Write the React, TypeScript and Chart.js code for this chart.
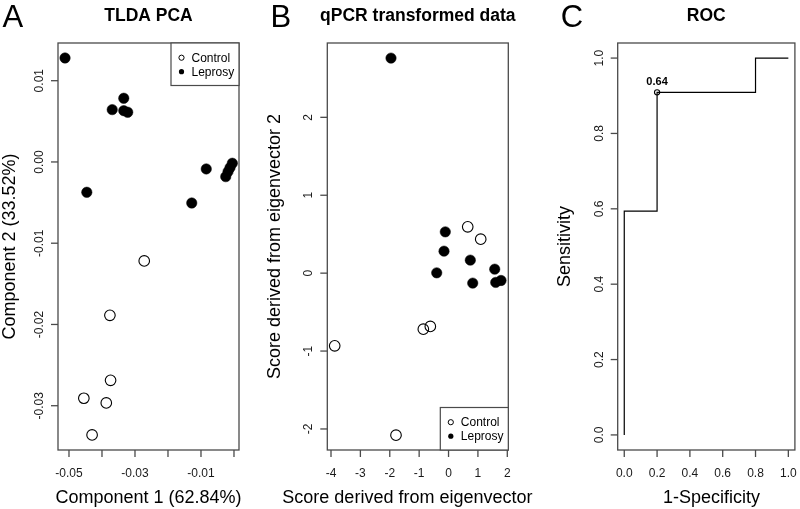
import React, { useEffect, useRef } from "react";
import { Chart, registerables } from "chart.js";

Chart.register(...registerables);

const FONT = '"Liberation Sans", Arial, Helvetica, sans-serif';

// ---------- Panel A: TLDA PCA ----------
const pcaControlX = [-0.0272, -0.0376, -0.0374, -0.0455, -0.0387, -0.043];
const pcaControlY = [-0.01218, -0.01887, -0.02687, -0.02908, -0.02966, -0.0336];
const pcaLeprosyX = [-0.0512, -0.0369, -0.0334, -0.0334, -0.0322, -0.0446, -0.0128, -0.0084, -0.0025, -0.0018, -0.0012, -0.0005];
const pcaLeprosyY = [0.0128, 0.00644, 0.00784, 0.00631, 0.00612, -0.00373, -0.00505, -0.00086, -0.00181, -0.00119, -0.0007, -0.00016];
const pcaXTicks = [-0.05, -0.04, -0.03, -0.02, -0.01, 0];
const pcaXTickLabels = ["-0.05", "", "-0.03", "", "-0.01", ""];
const pcaYTicks = [0.01, 0, -0.01, -0.02, -0.03];
const pcaYTickLabels = ["0.01", "0.00", "-0.01", "-0.02", "-0.03"];

// ---------- Panel B: qPCR transformed data ----------
const qpcrControlX = [0.653, 1.095, -0.858, -0.62, -3.874, -1.788];
const qpcrControlY = [0.594, 0.436, -0.719, -0.684, -0.933, -2.08];
const qpcrLeprosyX = [-1.958, -0.11, -0.154, -0.402, 0.741, 0.823, 1.572, 1.606, 1.786];
const qpcrLeprosyY = [2.76, 0.53, 0.282, 0.004, 0.167, -0.128, 0.051, -0.119, -0.094];
const qpcrXTicks = [-4, -3, -2, -1, 0, 1, 2];
const qpcrXTickLabels = ["-4", "-3", "-2", "-1", "0", "1", "2"];
const qpcrYTicks = [-2, -1, 0, 1, 2];
const qpcrYTickLabels = ["-2", "-1", "0", "1", "2"];

// ---------- Panel C: ROC ----------
const rocFpr = [0, 0, 0.2, 0.8, 1];
const rocTpr = [0, 0.594, 0.909, 1, 1];
const rocBestFpr = [0.2];
const rocBestTpr = [0.909];
const rocBestLabel = "0.64";
const rocTicks = [0, 0.2, 0.4, 0.6, 0.8, 1];
const rocTickLabels = ["0.0", "0.2", "0.4", "0.6", "0.8", "1.0"];

const legendLabels = ["Control", "Leprosy"];

type PanelCfg = {
  letter: string;
  letterX: number;
  title: string;
  xLabel: string;
  xLabelX: number | null;
  yLabel: string;
  yLabelX: number;
  xTicks: number[];
  xTickLabels: string[];
  yTicks: number[];
  yTickLabels: string[];
  legend: null | "topright" | "bottomright";
  pointLabel?: { x: number; y: number; text: string };
};

const BOX = "#4a4a4a";

function makePlugin(cfg: PanelCfg) {
  return {
    id: "rPlot",
    afterDraw(chart: any) {
      const ctx: CanvasRenderingContext2D = chart.ctx;
      const a = chart.chartArea;
      const xs = chart.scales.x;
      const ys = chart.scales.y;
      ctx.save();
      // box
      ctx.strokeStyle = BOX;
      ctx.lineWidth = 1.3;
      ctx.strokeRect(a.left, a.top, a.right - a.left, a.bottom - a.top);

      // x axis ticks
      ctx.fillStyle = "#1a1a1a";
      ctx.font = `12px ${FONT}`;
      ctx.textAlign = "center";
      ctx.textBaseline = "alphabetic";
      cfg.xTicks.forEach((v, i) => {
        const px = xs.getPixelForValue(v);
        ctx.beginPath();
        ctx.moveTo(px, a.bottom);
        ctx.lineTo(px, a.bottom + 7);
        ctx.stroke();
        if (cfg.xTickLabels[i]) ctx.fillText(cfg.xTickLabels[i], px, a.bottom + 27);
      });
      // y axis ticks
      cfg.yTicks.forEach((v, i) => {
        const py = ys.getPixelForValue(v);
        ctx.beginPath();
        ctx.moveTo(a.left, py);
        ctx.lineTo(a.left - 7, py);
        ctx.stroke();
        if (cfg.yTickLabels[i]) {
          ctx.save();
          ctx.translate(a.left - 15, py);
          ctx.rotate(-Math.PI / 2);
          ctx.fillText(cfg.yTickLabels[i], 0, 0);
          ctx.restore();
        }
      });

      // axis labels
      ctx.fillStyle = "#000";
      ctx.font = `18px ${FONT}`;
      const xlx = cfg.xLabelX ?? (a.left + a.right) / 2;
      ctx.fillText(cfg.xLabel, xlx, 503);
      ctx.save();
      ctx.translate(cfg.yLabelX, (a.top + a.bottom) / 2);
      ctx.rotate(-Math.PI / 2);
      ctx.fillText(cfg.yLabel, 0, 0);
      ctx.restore();

      // title
      ctx.font = `bold 17.5px ${FONT}`;
      ctx.fillText(cfg.title, (a.left + a.right) / 2, 21);

      // panel letter
      ctx.font = `31px ${FONT}`;
      ctx.textAlign = "left";
      ctx.fillText(cfg.letter, cfg.letterX, 27);

      // legend
      if (cfg.legend) {
        const w = 68;
        const h = 42.5;
        const bx = a.right - w;
        const by = cfg.legend === "topright" ? a.top : a.bottom - h;
        ctx.fillStyle = "#fff";
        ctx.fillRect(bx, by, w, h);
        ctx.strokeStyle = BOX;
        ctx.lineWidth = 1.2;
        ctx.strokeRect(bx, by, w, h);
        ctx.font = `12px ${FONT}`;
        ctx.textBaseline = "middle";
        legendLabels.forEach((lab, i) => {
          const cy = by + 14.7 + i * 14;
          ctx.beginPath();
          ctx.arc(bx + 10.5, cy, 2.6, 0, Math.PI * 2);
          if (i === 0) {
            ctx.strokeStyle = "#000";
            ctx.lineWidth = 1;
            ctx.stroke();
          } else {
            ctx.fillStyle = "#000";
            ctx.fill();
          }
          ctx.fillStyle = "#000";
          ctx.fillText(lab, bx + 20.5, cy + 0.5);
        });
      }

      // point label
      if (cfg.pointLabel) {
        const px = xs.getPixelForValue(cfg.pointLabel.x);
        const py = ys.getPixelForValue(cfg.pointLabel.y);
        ctx.font = `bold 11px ${FONT}`;
        ctx.textAlign = "center";
        ctx.textBaseline = "alphabetic";
        ctx.fillStyle = "#000";
        ctx.fillText(cfg.pointLabel.text, px, py - 7);
      }
      ctx.restore();
    },
  };
}

function pts(xs: number[], ys: number[]) {
  return xs.map((x, i) => ({ x, y: ys[i] }));
}

function scatterSets(cx: number[], cy: number[], lx: number[], ly: number[]) {
  return [
    {
      label: legendLabels[0],
      data: pts(cx, cy),
      pointRadius: 5.3,
      pointBackgroundColor: "rgba(255,255,255,0)",
      pointBorderColor: "#000",
      pointBorderWidth: 1.1,
      clip: false,
    },
    {
      label: legendLabels[1],
      data: pts(lx, ly),
      pointRadius: 5.2,
      pointBackgroundColor: "#000",
      pointBorderColor: "#000",
      pointBorderWidth: 0.5,
      clip: false,
    },
  ];
}

function baseOptions(xmin: number, xmax: number, ymin: number, ymax: number, pad: any) {
  return {
    responsive: false,
    animation: false,
    devicePixelRatio: 1,
    layout: { padding: pad },
    scales: {
      x: { type: "linear", min: xmin, max: xmax, display: false },
      y: { type: "linear", min: ymin, max: ymax, display: false },
    },
    plugins: { legend: { display: false }, tooltip: { enabled: false } },
    events: [],
  } as any;
}

const B_LEFT = 255;

export default function App() {
  const refA = useRef<HTMLCanvasElement>(null);
  const refB = useRef<HTMLCanvasElement>(null);
  const refC = useRef<HTMLCanvasElement>(null);

  useEffect(() => {
    const charts: Chart[] = [];

    const cfgA: PanelCfg = {
      letter: "A",
      letterX: 2.5,
      title: "TLDA PCA",
      xLabel: "Component 1 (62.84%)",
      xLabelX: null,
      yLabel: "Component 2 (33.52%)",
      yLabelX: 14.7,
      xTicks: pcaXTicks,
      xTickLabels: pcaXTickLabels,
      yTicks: pcaYTicks,
      yTickLabels: pcaYTickLabels,
      legend: "topright",
    };
    charts.push(
      new Chart(refA.current!, {
        type: "scatter",
        data: { datasets: scatterSets(pcaControlX, pcaControlY, pcaLeprosyX, pcaLeprosyY) as any },
        options: baseOptions(-0.05333, 0.00152, -0.03545, 0.01464, { left: 58, right: 31, top: 43, bottom: 59 }),
        plugins: [makePlugin(cfgA)],
      })
    );

    const off = 270 - B_LEFT;
    const cfgB: PanelCfg = {
      letter: "B",
      letterX: 0.5 + off,
      title: "qPCR transformed data",
      xLabel: "Score derived from eigenvector",
      xLabelX: 137.4 + off,
      yLabel: "Score derived from eigenvector 2",
      yLabelX: 9.5 + off,
      xTicks: qpcrXTicks,
      xTickLabels: qpcrXTickLabels,
      yTicks: qpcrYTicks,
      yTickLabels: qpcrYTickLabels,
      legend: "bottomright",
    };
    charts.push(
      new Chart(refB.current!, {
        type: "scatter",
        data: { datasets: scatterSets(qpcrControlX, qpcrControlY, qpcrLeprosyX, qpcrLeprosyY) as any },
        options: baseOptions(-4.126, 2.034, -2.27, 2.954, { left: 57.3 + off, right: 31.7, top: 43, bottom: 59 }),
        plugins: [makePlugin(cfgB)],
      })
    );

    const cfgC: PanelCfg = {
      letter: "C",
      letterX: 20.7,
      title: "ROC",
      xLabel: "1-Specificity",
      xLabelX: 171.5,
      yLabel: "Sensitivity",
      yLabelX: 30,
      xTicks: rocTicks,
      xTickLabels: rocTickLabels,
      yTicks: rocTicks,
      yTickLabels: rocTickLabels,
      legend: null,
      pointLabel: { x: rocBestFpr[0], y: rocBestTpr[0], text: rocBestLabel },
    };
    charts.push(
      new Chart(refC.current!, {
        type: "scatter",
        data: {
          datasets: [
            {
              label: "ROC",
              data: pts(rocFpr, rocTpr),
              showLine: true,
              stepped: "before",
              borderColor: "#000",
              borderWidth: 1.2,
              pointRadius: 0,
              fill: false,
              clip: false,
            },
            {
              label: "best",
              data: pts(rocBestFpr, rocBestTpr),
              pointRadius: 2.6,
              pointBackgroundColor: "rgba(255,255,255,0)",
              pointBorderColor: "#000",
              pointBorderWidth: 1.1,
              clip: false,
            },
          ] as any,
        },
        options: baseOptions(-0.04, 1.04, -0.04, 1.04, { left: 77.7, right: 1, top: 43, bottom: 59 }),
        plugins: [makePlugin(cfgC)],
      })
    );

    return () => charts.forEach((c) => c.destroy());
  }, []);

  const cv = (left: number): React.CSSProperties => ({ position: "absolute", left, top: 0 });

  return (
    <div style={{ position: "absolute", left: 0, top: 0, width: 800, height: 509, background: "#fff", overflow: "hidden" }}>
      <canvas ref={refA} width={270} height={509} style={cv(0)} />
      <canvas ref={refB} width={540 - B_LEFT} height={509} style={cv(B_LEFT)} />
      <canvas ref={refC} width={260} height={509} style={cv(540)} />
    </div>
  );
}
